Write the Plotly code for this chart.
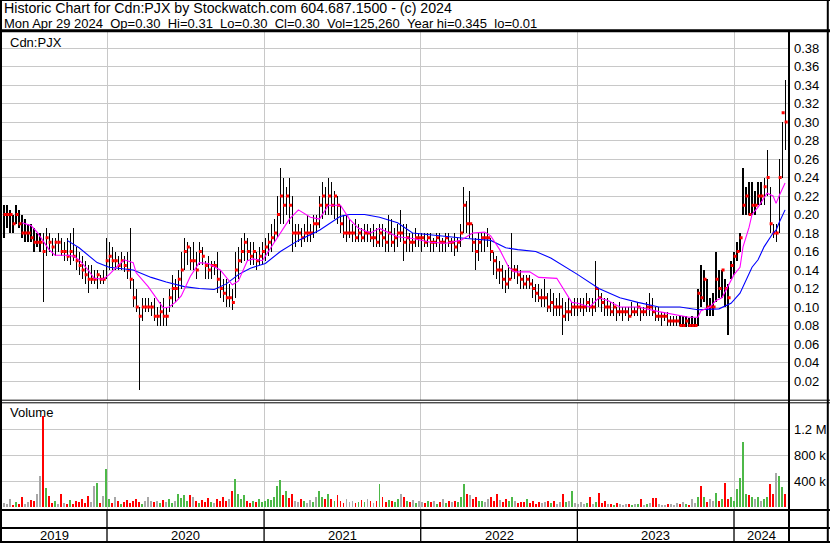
import pandas as pd
import plotly.graph_objects as go

# ---------------- DATA ----------------
first_week = "2019-05-06"   # weekly bars, one per week

high = [
    0.21, 0.21, 0.205, 0.20, 0.21, 0.205, 0.20, 0.195, 0.19, 0.19,
    0.185, 0.18, 0.18, 0.18, 0.185, 0.18, 0.175, 0.175, 0.18, 0.175,
    0.17, 0.175, 0.18, 0.185, 0.165, 0.16, 0.155, 0.15, 0.145, 0.145,
    0.14, 0.14, 0.135, 0.14, 0.175, 0.17, 0.165, 0.16, 0.155, 0.16,
    0.155, 0.16, 0.185, 0.13, 0.12, 0.10, 0.11, 0.11, 0.11, 0.105,
    0.11, 0.10, 0.105, 0.11, 0.10, 0.12, 0.135, 0.13, 0.14, 0.16,
    0.175, 0.17, 0.165, 0.17, 0.16, 0.17, 0.165, 0.15, 0.155, 0.15,
    0.15, 0.16, 0.14, 0.13, 0.13, 0.125, 0.12, 0.16, 0.165, 0.175,
    0.18, 0.175, 0.17, 0.17, 0.16, 0.165, 0.17, 0.175, 0.18, 0.19,
    0.195, 0.22, 0.25, 0.24, 0.23, 0.24, 0.22, 0.19, 0.19, 0.185,
    0.19, 0.20, 0.19, 0.20, 0.20, 0.22, 0.235, 0.23, 0.24, 0.235,
    0.225, 0.22, 0.21, 0.20, 0.20, 0.195, 0.19, 0.195, 0.19, 0.185,
    0.19, 0.19, 0.185, 0.19, 0.185, 0.19, 0.19, 0.185, 0.20, 0.195,
    0.185, 0.19, 0.205, 0.19, 0.19, 0.18, 0.18, 0.185, 0.18, 0.18,
    0.18, 0.18, 0.18, 0.175, 0.18, 0.18, 0.175, 0.18, 0.18, 0.175,
    0.18, 0.175, 0.19, 0.23, 0.215, 0.225, 0.19, 0.175, 0.18, 0.18,
    0.18, 0.185, 0.175, 0.16, 0.155, 0.15, 0.145, 0.14, 0.145, 0.18,
    0.145, 0.145, 0.14, 0.135, 0.135, 0.135, 0.13, 0.125, 0.125, 0.12,
    0.13, 0.115, 0.12, 0.115, 0.11, 0.115, 0.11, 0.105, 0.11, 0.105,
    0.11, 0.11, 0.11, 0.11, 0.115, 0.11, 0.11, 0.15, 0.12, 0.115,
    0.11, 0.11, 0.105, 0.105, 0.10, 0.105, 0.10, 0.10, 0.10, 0.105,
    0.10, 0.105, 0.10, 0.10, 0.105, 0.115, 0.11, 0.10, 0.10, 0.095,
    0.095, 0.095, 0.09, 0.09, 0.09, 0.09, 0.09, 0.09, 0.088, 0.09,
    0.088, 0.12, 0.145, 0.14, 0.13, 0.11, 0.115, 0.16, 0.14, 0.14,
    0.13, 0.125, 0.15, 0.16, 0.17, 0.18, 0.25, 0.23, 0.235, 0.235,
    0.225, 0.235, 0.235, 0.24, 0.27, 0.23, 0.19, 0.19, 0.26, 0.30, 0.345,
]

low = [
    0.175, 0.185, 0.18, 0.18, 0.19, 0.185, 0.175, 0.17, 0.17, 0.17,
    0.16, 0.165, 0.16, 0.105, 0.155, 0.16, 0.155, 0.155, 0.16, 0.155,
    0.15, 0.15, 0.145, 0.15, 0.14, 0.135, 0.13, 0.125, 0.115, 0.125,
    0.125, 0.12, 0.125, 0.125, 0.13, 0.14, 0.14, 0.14, 0.14, 0.14,
    0.138, 0.13, 0.12, 0.10, 0.095, 0.01, 0.085, 0.095, 0.095, 0.09,
    0.085, 0.08, 0.08, 0.08, 0.08, 0.095, 0.10, 0.105, 0.11, 0.12,
    0.14, 0.145, 0.14, 0.14, 0.13, 0.145, 0.145, 0.13, 0.13, 0.13,
    0.135, 0.115, 0.11, 0.105, 0.10, 0.10, 0.097, 0.11, 0.13, 0.148,
    0.15, 0.15, 0.145, 0.145, 0.14, 0.145, 0.145, 0.15, 0.155, 0.16,
    0.17, 0.175, 0.19, 0.19, 0.20, 0.19, 0.16, 0.165, 0.17, 0.165,
    0.17, 0.17, 0.17, 0.175, 0.18, 0.185, 0.195, 0.20, 0.20, 0.20,
    0.195, 0.19, 0.18, 0.175, 0.17, 0.175, 0.17, 0.17, 0.17, 0.17,
    0.17, 0.17, 0.17, 0.165, 0.165, 0.165, 0.165, 0.16, 0.16, 0.165,
    0.16, 0.165, 0.17, 0.15, 0.16, 0.16, 0.16, 0.165, 0.165, 0.16,
    0.165, 0.165, 0.16, 0.16, 0.165, 0.16, 0.16, 0.16, 0.165, 0.16,
    0.155, 0.16, 0.165, 0.18, 0.18, 0.175, 0.16, 0.14, 0.15, 0.16,
    0.16, 0.165, 0.15, 0.135, 0.13, 0.125, 0.12, 0.115, 0.12, 0.13,
    0.13, 0.125, 0.12, 0.12, 0.12, 0.12, 0.11, 0.105, 0.105, 0.10,
    0.10, 0.095, 0.095, 0.09, 0.09, 0.09, 0.07, 0.085, 0.085, 0.09,
    0.09, 0.09, 0.095, 0.09, 0.095, 0.095, 0.09, 0.095, 0.10, 0.095,
    0.09, 0.09, 0.09, 0.09, 0.085, 0.09, 0.085, 0.09, 0.085, 0.09,
    0.09, 0.09, 0.085, 0.09, 0.09, 0.09, 0.09, 0.085, 0.085, 0.08,
    0.085, 0.08, 0.08, 0.08, 0.08, 0.08, 0.078, 0.078, 0.078, 0.078,
    0.078, 0.08, 0.10, 0.105, 0.09, 0.09, 0.09, 0.105, 0.11, 0.11,
    0.10, 0.07, 0.13, 0.135, 0.15, 0.16, 0.20, 0.20, 0.20, 0.20,
    0.20, 0.21, 0.21, 0.21, 0.22, 0.18, 0.175, 0.17, 0.18, 0.24, 0.27,
]

close = [
    0.20, 0.20, 0.20, 0.19, 0.20, 0.19, 0.18, 0.18, 0.18, 0.175,
    0.17, 0.17, 0.17, 0.16, 0.175, 0.17, 0.165, 0.17, 0.17, 0.16,
    0.16, 0.155, 0.16, 0.155, 0.15, 0.145, 0.14, 0.135, 0.13, 0.13,
    0.13, 0.135, 0.13, 0.13, 0.15, 0.155, 0.15, 0.15, 0.145, 0.15,
    0.145, 0.14, 0.13, 0.11, 0.10, 0.09, 0.10, 0.10, 0.10, 0.10,
    0.09, 0.09, 0.095, 0.09, 0.09, 0.11, 0.12, 0.12, 0.13, 0.14,
    0.16, 0.165, 0.15, 0.15, 0.14, 0.16, 0.155, 0.145, 0.14, 0.145,
    0.145, 0.13, 0.12, 0.115, 0.11, 0.11, 0.105, 0.14, 0.15, 0.16,
    0.17, 0.16, 0.155, 0.16, 0.15, 0.155, 0.16, 0.165, 0.17, 0.175,
    0.18, 0.20, 0.22, 0.21, 0.22, 0.21, 0.18, 0.18, 0.18, 0.175,
    0.18, 0.18, 0.18, 0.19, 0.19, 0.21, 0.22, 0.21, 0.22, 0.21,
    0.22, 0.21, 0.19, 0.18, 0.18, 0.18, 0.18, 0.175, 0.18, 0.175,
    0.18, 0.18, 0.175, 0.175, 0.17, 0.18, 0.175, 0.17, 0.18, 0.17,
    0.175, 0.18, 0.18, 0.17, 0.175, 0.17, 0.17, 0.175, 0.175, 0.175,
    0.17, 0.175, 0.17, 0.17, 0.175, 0.17, 0.17, 0.175, 0.17, 0.17,
    0.165, 0.17, 0.18, 0.21, 0.19, 0.19, 0.17, 0.16, 0.17, 0.175,
    0.175, 0.175, 0.16, 0.15, 0.14, 0.14, 0.13, 0.125, 0.13, 0.14,
    0.14, 0.135, 0.13, 0.125, 0.13, 0.125, 0.12, 0.115, 0.11, 0.11,
    0.11, 0.10, 0.105, 0.10, 0.10, 0.10, 0.09, 0.095, 0.095, 0.10,
    0.10, 0.10, 0.10, 0.10, 0.105, 0.10, 0.10, 0.12, 0.11, 0.105,
    0.10, 0.10, 0.095, 0.10, 0.095, 0.095, 0.095, 0.095, 0.09, 0.095,
    0.095, 0.10, 0.095, 0.095, 0.10, 0.10, 0.095, 0.09, 0.09, 0.09,
    0.09, 0.085, 0.085, 0.085, 0.085, 0.08, 0.08, 0.085, 0.08, 0.08,
    0.08, 0.115, 0.11, 0.13, 0.10, 0.10, 0.10, 0.13, 0.12, 0.14,
    0.12, 0.11, 0.145, 0.155, 0.16, 0.175, 0.21, 0.22, 0.20, 0.21,
    0.21, 0.22, 0.22, 0.23, 0.24, 0.19, 0.18, 0.18, 0.24, 0.31, 0.30,
]

volume_k = [
    60, 40, 120, 30, 80, 50, 160, 40, 70, 110,
    90, 200, 480, 1400, 300, 170, 60, 90, 50, 200,
    60, 50, 110, 40, 90, 70, 120, 60, 170, 80,
    320, 370, 60, 170, 585, 120, 60, 150, 90, 40,
    80, 110, 60, 90, 130, 70, 50, 90, 150, 100,
    70, 90, 60, 110, 80, 120, 60, 90, 200, 140,
    180, 100, 190, 150, 90, 60, 110, 70, 140, 80,
    60, 130, 90, 150, 100, 120, 250, 430, 200, 120,
    180, 90, 60, 100, 80, 120, 70, 90, 130, 110,
    150, 320, 420, 180, 250, 140, 200, 100, 80, 120,
    90, 60, 110, 80, 160, 240, 150, 120, 200, 130,
    100, 180, 90, 60, 120, 70, 90, 60, 80, 110,
    70, 130, 90, 60, 100, 350, 150, 80, 110, 90,
    80, 120, 200, 150, 90, 70, 110, 60, 90, 80,
    60, 90, 70, 100, 50, 80, 120, 60, 90, 70,
    100, 80, 150, 350, 200, 180, 120, 160, 90, 100,
    70, 120, 150, 90, 200, 110, 80, 130, 90, 150,
    100, 60, 80, 70, 120, 60, 90, 50, 80, 60,
    70, 100, 60, 90, 50, 80, 200, 70, 90, 250,
    60, 40, 80, 50, 60, 150, 40, 70, 215, 60,
    90, 40, 50, 30, 60, 40, 30, 50, 40, 30,
    40, 50, 120, 30, 40, 60, 145, 140, 40, 30,
    30, 40, 50, 30, 60, 40, 80, 40, 30, 130,
    60, 150, 320, 150, 70, 120, 100, 210, 90, 120,
    370, 130, 150, 100, 270, 440, 1000, 200, 180, 150,
    120, 150, 100, 130, 160, 350, 200, 530, 470, 310, 200,
]

# moving averages (week number, value)
ma_short_week = [6, 9, 11, 13, 15, 17, 21, 23, 25, 28,
                 30, 33, 35, 38, 40, 43, 44, 48, 51, 53,
                 55, 57, 59, 62, 65, 68, 72, 76, 78, 81,
                 83, 86, 88, 92, 95, 98, 102, 105, 108, 112,
                 115, 118, 122, 125, 131, 136, 142, 147, 152, 156,
                 160, 162, 165, 168, 170, 175, 178, 184, 187, 189,
                 191, 195, 198, 201, 205, 211, 218, 225, 228, 231,
                 232, 235, 237, 239, 241, 243, 245, 246, 248, 249,
                 251, 253, 254, 256, 257, 258, 260]
ma_short = [0.191, 0.188, 0.181, 0.172, 0.162, 0.156, 0.156, 0.155, 0.151, 0.14,
            0.131, 0.13, 0.135, 0.145, 0.151, 0.148, 0.137, 0.122, 0.108, 0.099,
            0.10, 0.105, 0.112, 0.133, 0.148, 0.147, 0.14, 0.124, 0.128, 0.15,
            0.152, 0.15, 0.16, 0.18, 0.195, 0.205, 0.197, 0.195, 0.21, 0.21,
            0.195, 0.185, 0.18, 0.185, 0.176, 0.174, 0.17, 0.169, 0.172, 0.18,
            0.181, 0.177, 0.162, 0.143, 0.138, 0.138, 0.132, 0.131, 0.115, 0.105,
            0.104, 0.10, 0.11, 0.107, 0.10, 0.10, 0.095, 0.091, 0.089, 0.089,
            0.096, 0.10, 0.107, 0.11, 0.122, 0.135, 0.143, 0.165, 0.186, 0.20,
            0.208, 0.218, 0.223, 0.22, 0.212, 0.22, 0.234]

ma_long_week = [21, 25, 31, 35, 43, 49, 54, 60, 65, 70,
                74, 78, 82, 87, 92, 98, 105, 112, 115, 120,
                125, 131, 136, 142, 147, 154, 162, 167, 171, 177,
                182, 187, 191, 198, 205, 211, 218, 225, 231, 238,
                242, 245, 247, 249, 251, 253, 256, 257, 258, 260]
ma_long = [0.172, 0.164, 0.148, 0.143, 0.14, 0.132, 0.127, 0.122, 0.12, 0.119,
           0.125, 0.135, 0.142, 0.147, 0.16, 0.172, 0.183, 0.198, 0.20, 0.20,
           0.197, 0.191, 0.18, 0.178, 0.176, 0.174, 0.172, 0.164, 0.162, 0.16,
           0.153, 0.143, 0.135, 0.12, 0.11, 0.105, 0.10, 0.10, 0.097, 0.098,
           0.104, 0.115, 0.129, 0.143, 0.151, 0.165, 0.18, 0.183, 0.191, 0.205]

price_ticks = [0.02, 0.04, 0.06, 0.08, 0.10, 0.12, 0.14, 0.16, 0.18, 0.20,
               0.22, 0.24, 0.26, 0.28, 0.30, 0.32, 0.34, 0.36, 0.38]
volume_ticks = [400000, 800000, 1200000]
volume_tick_text = ["400 k", "800 k", "1.2 M"]
years = [2019, 2020, 2021, 2022, 2023, 2024]

header_line1 = "Historic Chart for Cdn:PJX by Stockwatch.com 604.687.1500 - (c) 2024"
header_line2 = ("Mon Apr 29 2024  Op=0.30  Hi=0.31  Lo=0.30  Cl=0.30  "
                "Vol=125,260  Year hi=0.345  lo=0.01")
symbol_label = "Cdn:PJX"
volume_label = "Volume"

# ---------------- FIGURE ----------------
W, H = 830, 543
def fx(px):
    return px / W
def fy(py):
    return 1 - py / H

n = min(len(high), len(low), len(close), len(volume_k))
high, low, close, volume_k = high[:n], low[:n], close[:n], volume_k[:n]
dates = pd.date_range(first_week, periods=n, freq="7D")
week_date = lambda w: pd.Timestamp(first_week) + pd.Timedelta(days=7 * w)

x_range = [pd.Timestamp("2019-05-01 08:00"), pd.Timestamp("2024-05-05 19:00")]
year_starts = [pd.Timestamp(f"{y}-01-01") for y in years[1:]]

FONT = "Liberation Sans, Arial, sans-serif"
GRID = "#c8c8c8"
DAY_MS = 86400000

vol_colors = []
for i in range(n):
    if i == 0 or close[i] == close[i - 1]:
        vol_colors.append("#a8a8a8")
    elif close[i] > close[i - 1]:
        vol_colors.append("#4db848")
    else:
        vol_colors.append("#ff0000")

fig = go.Figure()

# price range bars
fig.add_trace(go.Bar(
    x=dates, y=[h - l for h, l in zip(high, low)], base=low,
    width=2.6 * DAY_MS, marker=dict(color="black", line=dict(width=0)),
    xaxis="x", yaxis="y", hoverinfo="skip", showlegend=False))

# close ticks
fig.add_trace(go.Scatter(
    x=dates + pd.Timedelta(days=2.5), y=close, mode="markers",
    marker=dict(symbol="square", size=3, color="#ff0000", line=dict(width=0)),
    xaxis="x", yaxis="y", hoverinfo="skip", showlegend=False))

# moving averages
fig.add_trace(go.Scatter(
    x=[week_date(w) for w in ma_long_week], y=ma_long, mode="lines",
    line=dict(color="#0000ff", width=1.1), xaxis="x", yaxis="y",
    hoverinfo="skip", showlegend=False))
fig.add_trace(go.Scatter(
    x=[week_date(w) for w in ma_short_week], y=ma_short, mode="lines",
    line=dict(color="#ff00ff", width=1.1), xaxis="x", yaxis="y",
    hoverinfo="skip", showlegend=False))

# volume
fig.add_trace(go.Bar(
    x=dates, y=[v * 1000 for v in volume_k], width=4.5 * DAY_MS,
    marker=dict(color=vol_colors, line=dict(width=0)),
    xaxis="x2", yaxis="y2", hoverinfo="skip", showlegend=False))

vol_per_px = 400000 / 26.0

fig.update_layout(
    width=W, height=H, margin=dict(l=0, r=0, t=0, b=0),
    paper_bgcolor="white", plot_bgcolor="white",
    barmode="overlay", bargap=0,
    font=dict(family=FONT, size=13, color="black"),
    xaxis=dict(domain=[fx(2), fx(788)], range=x_range, type="date",
               tickvals=year_starts, showticklabels=False, ticks="",
               showgrid=True, gridcolor=GRID, gridwidth=1,
               zeroline=False, showline=False, anchor="y", fixedrange=True),
    yaxis=dict(domain=[fy(399.5), fy(31)], range=[0, (399.5 - 31) / 925.0],
               side="right", tickvals=price_ticks, tickformat=".2f",
               ticks="", ticklabelstandoff=5,
               showgrid=True, gridcolor=GRID, gridwidth=1,
               zeroline=False, showline=False, anchor="x",
               tickfont=dict(size=13, family=FONT, color="black")),
    xaxis2=dict(domain=[fx(2), fx(788)], range=x_range, type="date",
                matches="x", tickvals=year_starts, showticklabels=False,
                ticks="", showgrid=True, gridcolor=GRID, gridwidth=1,
                zeroline=False, showline=False, anchor="y2"),
    yaxis2=dict(domain=[fy(509), fy(403)],
                range=[-(509 - 507) * vol_per_px, (507 - 403) * vol_per_px],
                side="right", tickvals=volume_ticks, ticktext=volume_tick_text,
                ticks="", ticklabelstandoff=5,
                showgrid=True, gridcolor=GRID, gridwidth=1,
                zeroline=False, showline=False, anchor="x2",
                tickfont=dict(size=13, family=FONT, color="black")),
)

shapes = []
def hline(py, w, x0=0, x1=W):
    shapes.append(dict(type="line", xref="paper", yref="paper",
                       x0=fx(x0), x1=fx(x1), y0=fy(py), y1=fy(py),
                       line=dict(color="black", width=w)))
def vline(px, w, y0=0, y1=H):
    shapes.append(dict(type="line", xref="paper", yref="paper",
                       x0=fx(px), x1=fx(px), y0=fy(y0), y1=fy(y1),
                       line=dict(color="black", width=w)))

hline(0.5, 1)
hline(542, 2)
vline(1, 2)
vline(827.8, 2)
hline(30.7, 3)
vline(789, 2, 31, H)
hline(400.2, 1)
hline(402.8, 1)
hline(510, 2)
hline(528, 2)
for ys in year_starts:
    shapes.append(dict(type="line", xref="x", yref="paper",
                       x0=ys, x1=ys, y0=fy(510), y1=fy(H),
                       line=dict(color="black", width=1.3)))

annotations = [
    dict(text=header_line1, xref="paper", yref="paper",
         x=fx(2), y=fy(7.8), xanchor="left", yanchor="middle", showarrow=False,
         font=dict(size=14.2, family=FONT, color="black")),
    dict(text=header_line2.replace("  ", "\u00a0\u00a0"), xref="paper", yref="paper",
         x=fx(2), y=fy(23.2), xanchor="left", yanchor="middle", showarrow=False,
         font=dict(size=13, family=FONT, color="black")),
    dict(text=symbol_label, xref="paper", yref="paper",
         x=fx(8), y=fy(42), xanchor="left", yanchor="middle", showarrow=False,
         font=dict(size=13, family=FONT, color="black")),
    dict(text=volume_label, xref="paper", yref="paper",
         x=fx(8), y=fy(413), xanchor="left", yanchor="middle", showarrow=False,
         font=dict(size=13, family=FONT, color="black")),
]
bounds = [x_range[0]] + year_starts + [x_range[1]]
for k, y in enumerate(years):
    mid = bounds[k] + (bounds[k + 1] - bounds[k]) / 2
    annotations.append(dict(text=str(y), xref="x", yref="paper",
                            x=mid, y=fy(535.5), xanchor="center", yanchor="middle",
                            showarrow=False,
                            font=dict(size=13, family=FONT, color="black")))

fig.update_layout(shapes=shapes, annotations=annotations)
fig.write_html("out.html",
               config={"displayModeBar": False, "staticPlot": True},
               post_script="document.body.style.margin='0';"
                           "document.body.style.overflow='hidden';")
